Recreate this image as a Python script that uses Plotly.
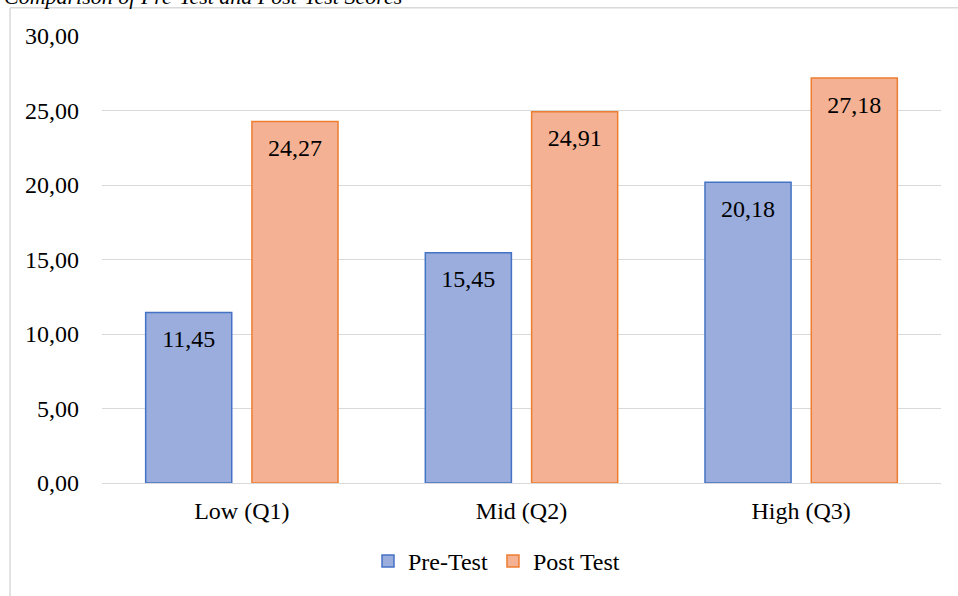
import plotly.graph_objects as go

categories = ["Low (Q1)", "Mid (Q2)", "High (Q3)"]
pre_test = [11.45, 15.45, 20.18]
post_test = [24.27, 24.91, 27.18]
y_ticks = [0, 5, 10, 15, 20, 25, 30]

FONT = "Liberation Serif, Times New Roman, serif"
W, H = 958, 596
# plot area in screen pixels: x 102..941, y 36..486
L, T = 102, 36
R = W - 941
B = H - 487
PW, PH = W - L - R, H - T - B


def sx(p):
    return (p - L) / PW


def sy(p):
    return (H - B - p) / PH


fig = go.Figure()
series = [
    ("Pre-Test", pre_test, "#9AADDD", "#4472C4", "pre"),
    ("Post Test", post_test, "#F4B193", "#ED7D31", "post"),
]
for name, vals, fill, edge, grp in series:
    fig.add_trace(go.Bar(
        name=name, x=categories, y=vals, offsetgroup=grp,
        marker=dict(color=fill, line=dict(color=edge, width=1.5)),
        hoverinfo="skip",
    ))
for name, vals, fill, edge, grp in series:
    fig.add_trace(go.Scatter(
        x=categories, y=vals, offsetgroup=grp, mode="markers+text",
        text=[f"{v:.2f}".replace(".", ",") for v in vals],
        textposition="bottom center",
        textfont=dict(family=FONT, size=24, color="black"),
        marker=dict(size=25, opacity=0),
        showlegend=False, hoverinfo="skip", cliponaxis=False,
    ))

fig.update_layout(
    width=W, height=H,
    margin=dict(l=L, r=R, t=T, b=B, pad=0),
    paper_bgcolor="white", plot_bgcolor="white",
    separators=",.",
    barmode="group", bargap=0.24, bargroupgap=0.19,
    scattermode="group", scattergap=0.24,
    font=dict(family=FONT, size=24, color="black"),
    showlegend=True,
    legend=dict(orientation="h", x=sx(368), xanchor="left", y=sy(566), yanchor="middle",
                font=dict(family=FONT, size=24, color="black"),
                bgcolor="rgba(0,0,0,0)", traceorder="normal"),
    xaxis=dict(showgrid=False, showline=True, linecolor="#D9D9D9", linewidth=1,
               ticks="", ticklabelstandoff=6,
               tickfont=dict(family=FONT, size=24, color="black")),
    yaxis=dict(range=[0, 30], tickvals=y_ticks, tickformat=".2f",
               showgrid=True, gridcolor="#D9D9D9", gridwidth=1,
               zeroline=False, showline=False, ticks="", ticklabelstandoff=22,
               tickfont=dict(family=FONT, size=24, color="black")),
    annotations=[dict(
        text="<i>Comparison of Pre-Test and Post-Test Scores</i>",
        xref="paper", yref="paper", x=sx(2), y=sy(11), xanchor="left", yanchor="bottom",
        showarrow=False, font=dict(family=FONT, size=22, color="black"),
    )],
    shapes=[
        dict(type="line", xref="paper", yref="paper", x0=sx(10), x1=sx(970), y0=sy(7.5), y1=sy(7.5),
             line=dict(color="#D9D9D9", width=1.5)),
        dict(type="line", xref="paper", yref="paper", x0=sx(10), x1=sx(10), y0=sy(7.5), y1=sy(610),
             line=dict(color="#D9D9D9", width=1.5)),
    ],
)

fig.write_html("out.html", config={"displayModeBar": False},
               post_script="document.body.style.margin='0';")
